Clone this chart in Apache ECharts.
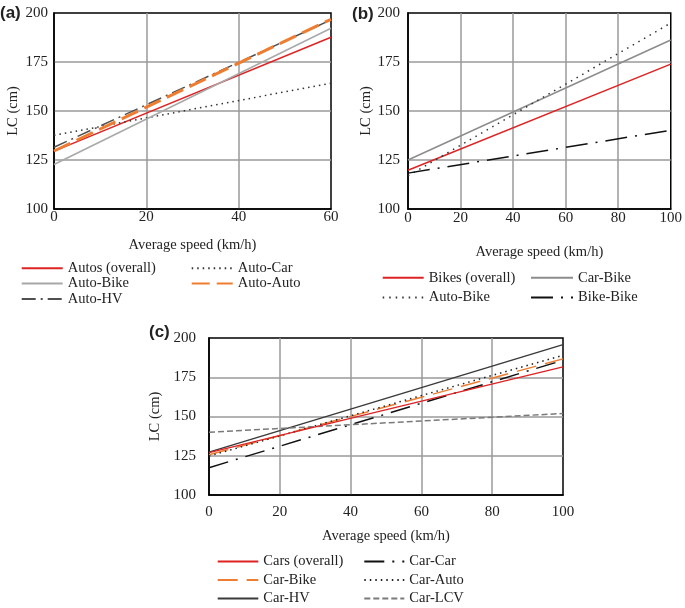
<!DOCTYPE html>
<html><head><meta charset="utf-8">
<script src="https://cdn.jsdelivr.net/npm/echarts@6/dist/echarts.min.js"></script>
<style>html,body{margin:0;padding:0;background:#fff}#c{width:685px;height:608px}</style>
</head><body><div id="c"></div>
<script>
// ---- Panel (a): Autos ----
const speedA = [0, 60];
const autosOverall = [129.5, 187.6];
const autoCar = [137.6, 164.2];
const autoBikeA = [122.7, 192.2];
const autoHV = [131.5, 196.5];
const autoAuto = [129.6, 196.8];
// ---- Panel (b): Bikes ----
const speedB = [0, 100];
const bikesOverall = [119.8, 173.9];
const carBikeB = [125.0, 186.2];
const autoBikeB = [116.9, 194.9];
const bikeBike = [118.3, 140.2];
// ---- Panel (c): Cars ----
const speedC = [0, 100];
const carsOverall = [127.0, 181.6];
const carCar = [117.4, 185.8];
const carBikeC = [125.6, 186.7];
const carAuto = [124.8, 189.0];
const carHV = [127.3, 195.8];
const carLCV = [140.0, 151.9];
// axis ranges
const xRangeA = [0, 60], xRangeB = [0, 100], xRangeC = [0, 100];
const yRange = [100, 200];
const xStep = 20, yStep = 25;
const xName = 'Average speed (km/h)';
const yName = 'LC (cm)';

const SERIF = '"Liberation Serif", "Times New Roman", serif';
const TXT = '#222';
const CLEAR = 'rgba(0,0,0,0)';

function pairs(xs, ys) { return xs.map((x, i) => [x, ys[i]]); }
function line(name, idx, xs, ys, color, width, dash, z) {
  return {
    type: 'line', name: name, xAxisIndex: idx, yAxisIndex: idx,
    data: pairs(xs, ys), symbol: 'none', silent: true, z: z || 2,
    lineStyle: { color: color, width: width, type: dash || 'solid', cap: 'butt' },
    itemStyle: { color: CLEAR, opacity: 0 }
  };
}
function xAx(idx, range, labelMargin, nameGap) {
  return {
    type: 'value', gridIndex: idx, min: range[0], max: range[1], interval: xStep,
    axisLine: { show: true, lineStyle: { color: '#000', width: 1.5 } },
    axisTick: { show: false },
    axisLabel: { margin: labelMargin, fontFamily: SERIF, fontSize: 15, color: TXT },
    splitLine: { show: true, showMinLine: false, showMaxLine: false, lineStyle: { color: '#9a9a9a', width: 1.5 } },
    name: xName, nameLocation: 'middle', nameGap: nameGap,
    nameTextStyle: { fontFamily: SERIF, fontSize: 14.5, color: TXT }
  };
}
function yAx(idx, labelMargin, nameGap) {
  return {
    type: 'value', gridIndex: idx, min: yRange[0], max: yRange[1], interval: yStep,
    axisLine: { show: true, lineStyle: { color: '#000', width: 1.5 } },
    axisTick: { show: false },
    axisLabel: { margin: labelMargin, fontFamily: SERIF, fontSize: 15, color: TXT },
    splitLine: { show: true, showMinLine: false, showMaxLine: false, lineStyle: { color: '#9a9a9a', width: 1.5 } },
    name: yName, nameLocation: 'middle', nameGap: nameGap,
    nameTextStyle: { fontFamily: SERIF, fontSize: 14.5, color: TXT }
  };
}
function leg(names, left, top, itemWidth, gap) {
  return {
    data: names, left: left, top: top, orient: 'vertical', selectedMode: false,
    itemWidth: itemWidth, itemHeight: 14, itemGap: gap, padding: 0,
    formatter: n => n.trim(),
    itemStyle: { color: CLEAR, borderColor: CLEAR, borderWidth: 0, opacity: 0 },
    textStyle: { fontFamily: SERIF, fontSize: 14.5, color: TXT }
  };
}

const RED = '#de2323', ORANGE = '#ee7d31';

const option = {
  animation: false,
  backgroundColor: '#fff',
  grid: [
    { left: 54, top: 13, width: 277, height: 196, show: true, borderColor: '#000', borderWidth: 1.5 },
    { left: 408, top: 13, width: 265, height: 196, show: true, borderColor: '#000', borderWidth: 1.5 },
    { left: 209, top: 338, width: 354, height: 157, show: true, borderColor: '#000', borderWidth: 1.5 }
  ],
  xAxis: [xAx(0, xRangeA, 1, 29), xAx(1, xRangeB, 2, 36), xAx(2, xRangeC, 10, 34)],
  yAxis: [yAx(0, 6, 33), yAx(1, 8, 32.5), yAx(2, 13, 38)],
  legend: [
    leg(['Autos (overall)', 'Auto-Bike', 'Auto-HV'], 20.7, 260.7, 41, 0.4),
    leg(['Auto-Car', 'Auto-Auto'], 190.7, 260.7, 41, 0.4),
    leg(['Bikes (overall)', 'Auto-Bike '], 381.7, 270.3, 41, 4.7),
    leg(['Car-Bike ', 'Bike-Bike'], 530, 270.3, 42, 4.7),
    leg(['Cars (overall)', 'Car-Bike', 'Car-HV'], 216.7, 554, 40.6, 3.5),
    leg(['Car-Car', 'Car-Auto', 'Car-LCV'], 363.3, 554, 40, 3.5)
  ],
  graphic: [
    { type: 'text', left: 0, top: 5, style: { text: '(a)', font: 'bold 17px "Liberation Sans", Arial, sans-serif', fill: '#222' } },
    { type: 'text', left: 352, top: 6, style: { text: '(b)', font: 'bold 17px "Liberation Sans", Arial, sans-serif', fill: '#222' } },
    { type: 'text', left: 149, top: 324, style: { text: '(c)', font: 'bold 17px "Liberation Sans", Arial, sans-serif', fill: '#222' } }
  ],
  series: [
    // (a)
    line('Autos (overall)', 0, speedA, autosOverall, RED, 1.5, 'solid', 3),
    line('Auto-Car', 0, speedA, autoCar, '#333', 1.5, [1.5, 4], 3),
    line('Auto-Bike', 0, speedA, autoBikeA, '#a8a8a8', 1.5, 'solid', 3),
    line('Auto-HV', 0, speedA, autoHV, '#505050', 1.5, [14, 5, 2, 5], 3),
    line('Auto-Auto', 0, speedA, autoAuto, ORANGE, 3, [18, 7], 4),
    // (b)
    line('Bikes (overall)', 1, speedB, bikesOverall, RED, 1.5, 'solid', 3),
    line('Car-Bike ', 1, speedB, carBikeB, '#8c8c8c', 1.5, 'solid', 3),
    line('Auto-Bike ', 1, speedB, autoBikeB, '#333', 1.5, [1.5, 5], 3),
    line('Bike-Bike', 1, speedB, bikeBike, '#111', 1.5, [22, 8, 2, 8], 3),
    // (c)
    line('Cars (overall)', 2, speedC, carsOverall, RED, 1.5, 'solid', 4),
    line('Car-Bike', 2, speedC, carBikeC, ORANGE, 1.5, [20, 9], 3),
    line('Car-HV', 2, speedC, carHV, '#3a3a3a', 1.5, 'solid', 3),
    line('Car-Car', 2, speedC, carCar, '#111', 1.5, [20, 8, 2, 8], 3),
    line('Car-Auto', 2, speedC, carAuto, '#222', 1.5, [1.5, 4], 3),
    line('Car-LCV', 2, speedC, carLCV, '#7a7a7a', 1.5, [6, 3], 3)
  ]
};
const chart = echarts.init(document.getElementById('c'), null, { renderer: 'canvas' });
chart.setOption(option);
</script>
</body></html>
